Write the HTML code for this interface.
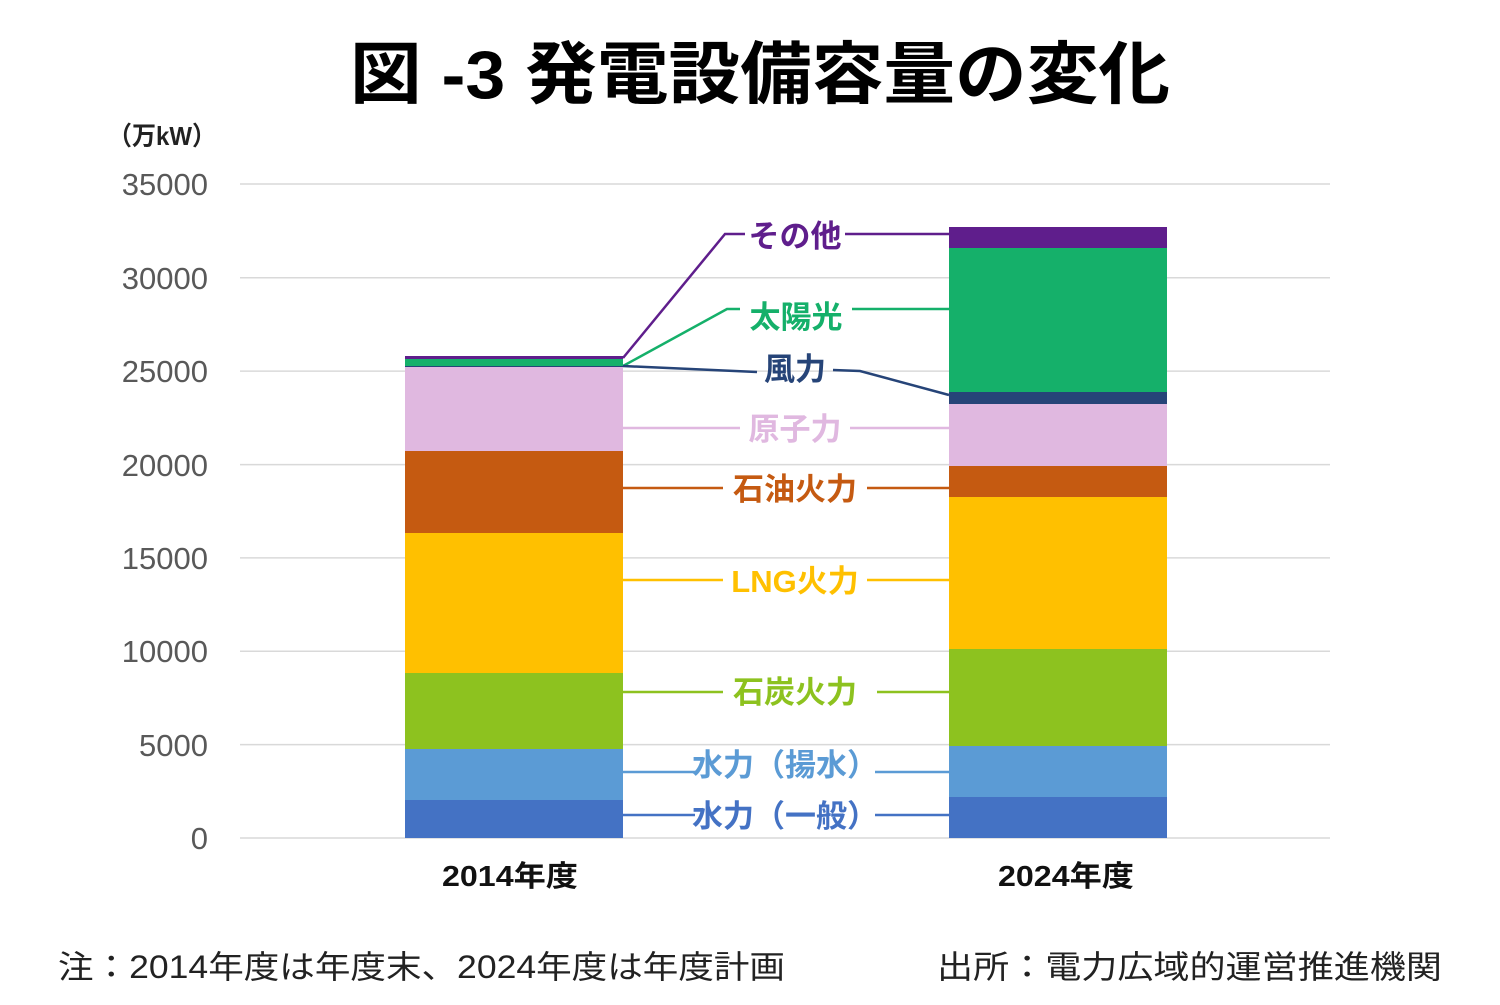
<!DOCTYPE html>
<html><head><meta charset="utf-8"><style>
html,body{margin:0;padding:0;background:#fff;}
svg text{font-family:"Liberation Sans","Noto Sans CJK JP",sans-serif;}
</style></head><body>
<svg width="1500" height="1000" xmlns="http://www.w3.org/2000/svg">
<rect width="1500" height="1000" fill="#fff"/>
<text x="350" y="98" font-size="68" font-weight="bold" fill="#000" textLength="820" lengthAdjust="spacingAndGlyphs">図 -3 発電設備容量の変化</text>
<text x="108" y="145" font-size="26" font-weight="bold" fill="#222" textLength="108" lengthAdjust="spacingAndGlyphs">（万kW）</text>
<g stroke="#d9d9d9" stroke-width="1.5">
<line x1="240" x2="1330" y1="838" y2="838"/><line x1="240" x2="1330" y1="744.6" y2="744.6"/>
<line x1="240" x2="1330" y1="651.3" y2="651.3"/><line x1="240" x2="1330" y1="557.9" y2="557.9"/>
<line x1="240" x2="1330" y1="464.6" y2="464.6"/><line x1="240" x2="1330" y1="371.1" y2="371.1"/>
<line x1="240" x2="1330" y1="277.8" y2="277.8"/><line x1="240" x2="1330" y1="184" y2="184"/>
</g>
<g font-size="31" fill="#595959" text-anchor="end">
<text x="208" y="849">0</text><text x="208" y="756">5000</text><text x="208" y="662">10000</text>
<text x="208" y="569">15000</text><text x="208" y="476">20000</text><text x="208" y="382">25000</text>
<text x="208" y="289">30000</text><text x="208" y="195">35000</text>
</g>
<rect x="405" y="800" width="218" height="38" fill="#4472c4"/>
<rect x="405" y="749" width="218" height="51" fill="#5b9bd5"/>
<rect x="405" y="673" width="218" height="76" fill="#8dc21f"/>
<rect x="405" y="533" width="218" height="140" fill="#ffc000"/>
<rect x="405" y="451" width="218" height="82" fill="#c55a11"/>
<rect x="405" y="367" width="218" height="84" fill="#e0b8e0"/>
<rect x="405" y="366" width="218" height="1" fill="#264478"/>
<rect x="405" y="359" width="218" height="7" fill="#15b06a"/>
<rect x="405" y="356" width="218" height="3" fill="#5f1e8c"/>
<rect x="949" y="797" width="218" height="41" fill="#4472c4"/>
<rect x="949" y="746" width="218" height="51" fill="#5b9bd5"/>
<rect x="949" y="649" width="218" height="97" fill="#8dc21f"/>
<rect x="949" y="497" width="218" height="152" fill="#ffc000"/>
<rect x="949" y="466" width="218" height="31" fill="#c55a11"/>
<rect x="949" y="404" width="218" height="62" fill="#e0b8e0"/>
<rect x="949" y="392" width="218" height="12" fill="#264478"/>
<rect x="949" y="248" width="218" height="144" fill="#15b06a"/>
<rect x="949" y="227" width="218" height="21" fill="#5f1e8c"/>
<g fill="none" stroke-width="2.5">
<polyline points="623,358 725,234 745,234" stroke="#5f1e8c"/><line x1="845" y1="234" x2="949" y2="234" stroke="#5f1e8c"/>
<polyline points="623,366 727,309 740,309" stroke="#15b06a"/><line x1="852" y1="309" x2="949" y2="309" stroke="#15b06a"/>
<polyline points="623,366 757,372" stroke="#264478"/><polyline points="833,370 860,371 949,395" stroke="#264478"/>
<line x1="623" y1="428" x2="740" y2="428" stroke="#e0b8e0"/><line x1="850" y1="428" x2="949" y2="428" stroke="#e0b8e0"/>
<line x1="623" y1="488" x2="723" y2="488" stroke="#c55a11"/><line x1="867" y1="488" x2="949" y2="488" stroke="#c55a11"/>
<line x1="623" y1="580" x2="723" y2="580" stroke="#ffc000"/><line x1="867" y1="580" x2="949" y2="580" stroke="#ffc000"/>
<line x1="623" y1="692" x2="723" y2="692" stroke="#8dc21f"/><line x1="877" y1="692" x2="949" y2="692" stroke="#8dc21f"/>
<line x1="623" y1="772" x2="695" y2="772" stroke="#5b9bd5"/><line x1="875" y1="772" x2="949" y2="772" stroke="#5b9bd5"/>
<line x1="623" y1="815" x2="695" y2="815" stroke="#4472c4"/><line x1="875" y1="815" x2="949" y2="815" stroke="#4472c4"/>
</g>
<g font-size="31" font-weight="bold" text-anchor="middle">
<text x="795" y="247" fill="#5f1e8c">その他</text>
<text x="796" y="328" fill="#15b06a">太陽光</text>
<text x="795" y="380" fill="#264478">風力</text>
<text x="795" y="440" fill="#e0b8e0">原子力</text>
<text x="795" y="500" fill="#c55a11">石油火力</text>
<text x="795" y="592" fill="#ffc000">LNG火力</text>
<text x="795" y="703" fill="#8dc21f">石炭火力</text>
<text x="785" y="776" fill="#5b9bd5">水力（揚水）</text>
<text x="785" y="827" fill="#4472c4">水力（一般）</text>
</g>
<g font-size="29" font-weight="bold" fill="#111">
<text x="442" y="886" textLength="136" lengthAdjust="spacingAndGlyphs">2014年度</text>
<text x="998" y="886" textLength="136" lengthAdjust="spacingAndGlyphs">2024年度</text>
</g>
<text x="58" y="978" font-size="32" fill="#222" textLength="727" lengthAdjust="spacingAndGlyphs">注：2014年度は年度末、2024年度は年度計画</text>
<text x="937" y="978" font-size="32" fill="#222" textLength="505" lengthAdjust="spacingAndGlyphs">出所：電力広域的運営推進機関</text>
</svg>
</body></html>
